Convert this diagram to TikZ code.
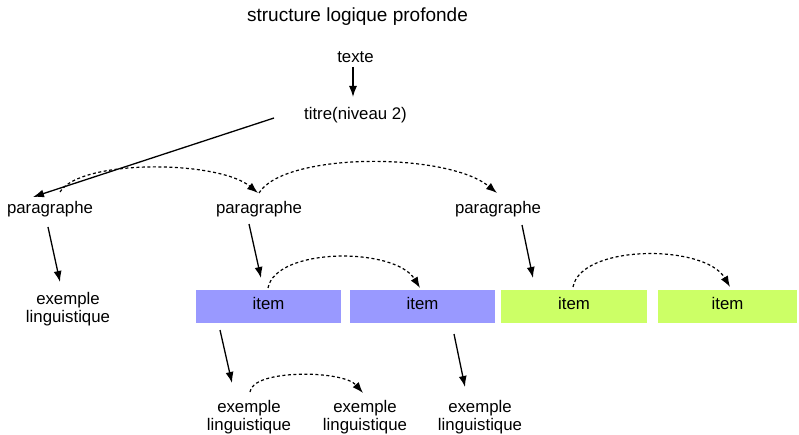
\documentclass[tikz,border=0pt]{standalone}
\usepackage{fontspec}
\setmainfont{Liberation Sans}
\usetikzlibrary{arrows.meta,calc}
\definecolor{itemblue}{RGB}{153,153,255}
\definecolor{itemgreen}{RGB}{204,255,102}
\tikzset{
  lbl/.style={font=\fontsize{16.8}{18}\selectfont, inner sep=0pt, align=center},
  ttl/.style={font=\fontsize{19}{21}\selectfont, inner sep=0pt},
  itembox/.style={lbl, minimum height=33pt, text depth=6pt},
  link/.style={line width=1.3pt, -{Latex[length=11pt,width=8pt]}},
  seq/.style={line width=1.2pt, dash pattern=on 3pt off 2.5pt, -{Latex[length=11pt,width=8pt]}},
}
\begin{document}
\begin{tikzpicture}[x=1pt,y=-1pt]
\useasboundingbox (0,0) rectangle (799,435);

% labels
\node[ttl] (title) at (357.5,17) {structure logique profonde};
\node[lbl] (texte) at (355.5,57) {texte};
\node[lbl] (titre) at (355.5,115) {titre(niveau 2)};
\node[lbl] (p1) at (50,209) {paragraphe};
\node[lbl] (p2) at (259,209) {paragraphe};
\node[lbl] (p3) at (498,209) {paragraphe};
\node[lbl] (e1) at (68,309) {exemple\\linguistique};

% item boxes
\node[itembox, fill=itemblue, minimum width=145pt] (i1) at (268.5,306) {item};
\node[itembox, fill=itemblue, minimum width=145pt] (i2) at (422.5,306) {item};
\node[itembox, fill=itemgreen, minimum width=146pt] (i3) at (574,306) {item};
\node[itembox, fill=itemgreen, minimum width=139pt] (i4) at (727.5,306) {item};

\node[lbl] (e2) at (249,417) {exemple\\linguistique};
\node[lbl] (e3) at (365,417) {exemple\\linguistique};
\node[lbl] (e4) at (480,417) {exemple\\linguistique};

% hierarchy links
\draw[link] ($(texte)+(-2.5,10)$) -- ($(titre)+(-2.5,-18)$);
\draw[link] ($(titre)+(-81.5,3)$) -- ($(p1)+(-17,-12)$);
\draw[link] ($(p1)+(-2,18)$) -- ($(e1)+(-8,-27)$);
\draw[link] ($(p2)+(-10,15)$) -- ($(i1)+(-7.5,-28)$);
\draw[link] ($(p3)+(24,16)$) -- ($(i3)+(-41,-28)$);
\draw[link] ($(i1)+(-48.5,24)$) -- ($(e2)+(-17,-34)$);
\draw[link] ($(i2)+(31.5,28)$) -- ($(e4)+(-15,-30)$);

% sequence links
\draw[seq] ($(p1)+(10,-17)$) .. controls +(20,-33) and +(-40,-33) .. ($(p2)+(-1,-16)$);
\draw[seq] ($(p2)+(0,-16)$) .. controls +(25,-41) and +(-50,-41) .. ($(p3)+(-1,-16)$);
\draw[seq] ($(i1)+(-0.5,-18)$) .. controls +(8,-41) and +(-25,-41) .. ($(i2)+(-2.5,-18)$);
\draw[seq] ($(i3)+(-1,-19)$) .. controls +(8,-43) and +(-25,-43) .. ($(i4)+(2.5,-19)$);
\draw[seq] ($(e2)+(1,-25)$) .. controls +(2,-23) and +(-20,-23) .. ($(e3)+(-2,-24)$);
\end{tikzpicture}
\end{document}
